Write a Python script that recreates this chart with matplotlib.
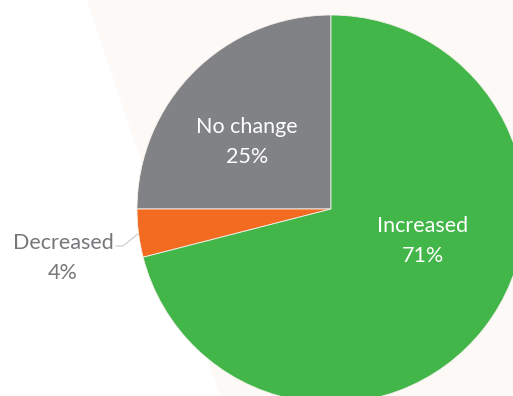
import matplotlib
matplotlib.use("Agg")
import matplotlib.pyplot as plt
from matplotlib.patches import Polygon

# slice order follows the reference: counter-clockwise from 12 o'clock
labels = ["No change", "Decreased", "Increased"]
shares = [25, 4, 71]
colors = ["#808285", "#F26B21", "#43B649"]

W, H = 513, 396
fig = plt.figure(figsize=(W / 100, H / 100), dpi=100)
ax = fig.add_axes([0, 0, 1, 1])

# faint peach backdrop behind the pie
ax.add_patch(Polygon([(87, H), (220, 0), (W, 0), (W, H)], closed=True,
                     facecolor="#FDF9F6", edgecolor="none", zorder=0))

ax.pie(shares, colors=colors, startangle=90, counterclock=True,
       center=(331, H - 209), radius=194, frame=True,
       wedgeprops=dict(linewidth=0.6, edgecolor="#F6F1EC"))
ax.set_xlim(0, W)
ax.set_ylim(0, H)
ax.set_aspect("equal")
ax.axis("off")

font = dict(family=["Lato", "DejaVu Sans"], fontsize=15.5, ha="center",
            va="center", linespacing=1.6)
pos = {"No change": (247, H - 142), "Increased": (423, H - 241),
       "Decreased": (63, H - 258)}
for lab, val in zip(labels, shares):
    col = "#76777A" if lab == "Decreased" else "white"
    ax.text(*pos[lab], f"{lab}\n{val}%", color=col, zorder=5, **font)

# leader line for the small slice
ax.plot([116, 123, 138], [H - 246, H - 246, H - 234], color="#C8C8C8",
        lw=0.8, zorder=4)

fig.savefig("out.png", dpi=100)
